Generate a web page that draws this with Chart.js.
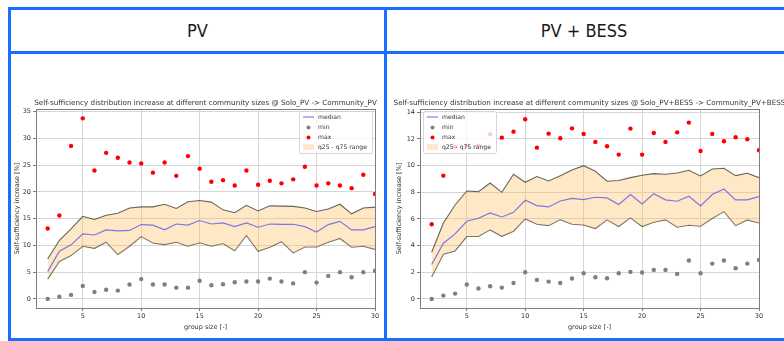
<!DOCTYPE html>
<html>
<head>
<meta charset="utf-8">
<script src="https://cdn.jsdelivr.net/npm/chart.js@4.4.1/dist/chart.umd.min.js"></script>
<style>
  html, body { margin: 0; padding: 0; background: #fff; overflow: hidden; }
  #page { position: relative; width: 784px; height: 341px; }
  .line { position: absolute; background: #1a6eff; }
  .head { position: absolute; top: 10px; height: 41px; line-height: 41px; text-align: center;
          font-family: "Liberation Sans Narrow", "DejaVu Sans Condensed", sans-serif; font-size: 18px; color: #1a1a1a; }
  canvas { position: absolute; }
</style>
</head>
<body>
<div id="page">
  <div class="head" style="left:11px;width:373px;">PV</div>
  <div class="head" style="left:387px;width:394px;">PV + BESS</div>

  <canvas id="chart-pv" style="left:11px;top:54px;width:373px;height:284px;" width="373" height="284"></canvas>
  <canvas id="chart-bess" style="left:387px;top:54px;width:410px;height:284px;" width="410" height="284"></canvas>

  <div class="line" style="left:8px;top:7px;width:790px;height:3px;"></div>
  <div class="line" style="left:8px;top:51px;width:790px;height:3px;"></div>
  <div class="line" style="left:8px;top:338px;width:790px;height:3px;"></div>
  <div class="line" style="left:8px;top:7px;width:3px;height:334px;"></div>
  <div class="line" style="left:384px;top:7px;width:3px;height:334px;"></div>
</div>

<script>
// group sizes on the x axis
var groupSizes = [2, 3, 4, 5, 6, 7, 8, 9, 10, 11, 12, 13, 14, 15, 16, 17, 18, 19, 20, 21, 22, 23, 24, 25, 26, 27, 28, 29, 30];
var xTicks = [5, 10, 15, 20, 25, 30];

// Solo_PV -> Community_PV
var pvMedian = [5.1, 8.9, 10.1, 12.15, 11.95, 12.9, 12.7, 12.8, 13.9, 13.8, 12.9, 14.0, 13.8, 14.65, 14.0, 14.2, 13.5, 14.2, 13.4, 14.0, 13.95, 13.95, 13.5, 12.5, 13.9, 14.5, 12.9, 12.9, 13.5];
var pvQ25 = [3.7, 7.0, 8.1, 9.85, 9.45, 10.6, 8.3, 9.85, 11.65, 10.45, 10.15, 10.6, 9.85, 10.5, 9.85, 10.35, 9.0, 11.85, 8.9, 9.65, 10.7, 8.6, 9.7, 9.7, 10.6, 11.3, 9.65, 9.85, 9.25];
var pvQ75 = [7.45, 10.95, 13.1, 15.45, 14.85, 15.65, 16.0, 17.0, 17.2, 17.2, 17.7, 16.9, 18.15, 18.4, 18.1, 16.65, 16.1, 17.5, 16.45, 17.4, 17.35, 17.3, 17.0, 16.35, 16.8, 17.7, 15.9, 17.0, 17.15];
var pvMin = [0, 0.4, 0.75, 2.4, 1.3, 1.7, 1.55, 2.7, 3.7, 2.7, 2.7, 2.1, 2.1, 3.4, 2.55, 2.75, 3.1, 3.25, 3.25, 3.8, 3.25, 2.9, 5.0, 3.05, 4.3, 5.0, 4.05, 5.0, 5.25];
var pvMax = [13.15, 15.6, 28.6, 33.75, 24.0, 27.3, 26.4, 25.5, 25.3, 23.6, 25.5, 23.0, 26.7, 24.35, 21.9, 22.2, 21.2, 24.0, 21.35, 22.1, 21.6, 22.35, 24.7, 21.2, 21.6, 21.2, 20.7, 23.2, 19.6];
var pvYTicks = [0, 5, 10, 15, 20, 25, 30, 35];

// Solo_PV+BESS -> Community_PV+BESS
var bessMedian = [2.58, 4.18, 4.88, 5.83, 6.05, 6.45, 6.15, 6.5, 7.4, 7.0, 6.9, 7.35, 7.55, 7.45, 7.63, 7.58, 7.08, 7.83, 7.13, 7.9, 7.43, 7.33, 7.7, 6.98, 7.83, 8.25, 7.43, 7.43, 7.68];
var bessQ25 = [1.65, 3.35, 3.6, 4.68, 4.68, 5.18, 4.7, 5.08, 6.0, 5.6, 5.5, 5.95, 5.6, 5.55, 5.28, 5.93, 5.43, 6.08, 5.43, 5.75, 5.93, 5.38, 5.53, 5.45, 6.03, 6.55, 5.5, 5.93, 5.7];
var bessQ75 = [3.5, 5.7, 7.05, 8.1, 8.05, 8.7, 8.0, 9.35, 8.75, 9.18, 8.85, 9.25, 9.68, 10.0, 9.58, 8.83, 8.88, 9.1, 9.28, 9.4, 9.35, 9.45, 9.65, 9.23, 9.75, 9.8, 9.25, 9.43, 9.1];
var bessMin = [0, 0.25, 0.4, 1.08, 0.78, 0.95, 0.85, 1.2, 2.0, 1.43, 1.3, 1.2, 1.53, 1.93, 1.63, 1.55, 1.93, 2.03, 1.98, 2.18, 2.18, 1.88, 2.88, 1.93, 2.65, 2.88, 2.3, 2.65, 2.93];
var bessMax = [5.6, 9.25, 11.4, 11.5, 11.5, 12.35, 12.1, 12.55, 13.48, 11.35, 12.4, 12.05, 12.8, 12.38, 11.78, 11.45, 10.83, 12.78, 10.83, 12.45, 11.78, 12.5, 13.23, 11.1, 12.38, 11.83, 12.13, 11.98, 11.15];
var bessYTicks = [0, 2, 4, 6, 8, 10, 12, 14];

var FONT = 'DejaVu Sans';
var TEXT = '#333';

function xy(values) {
    return values.map((v, i) => ({ x: groupSizes[i], y: v }));
}

// full box around the axes, like matplotlib spines
var axesFrame = {
    id: 'axesFrame',
    afterDatasetsDraw(chart) {
        var a = chart.chartArea, ctx = chart.ctx;
        ctx.save();
        ctx.strokeStyle = '#7d7d7d';
        ctx.lineWidth = 1;
        ctx.strokeRect(Math.round(a.left) + 0.5, Math.round(a.top) + 0.5, Math.round(a.width), Math.round(a.height));
        ctx.restore();
    }
};

// title centred over the axes, not squeezed to fit
var axesTitle = {
    id: 'axesTitle',
    afterDraw(chart, args, opts) {
        var a = chart.chartArea, ctx = chart.ctx;
        ctx.save();
        ctx.font = '7.2px "' + FONT + '"';
        ctx.fillStyle = TEXT;
        ctx.textAlign = 'center';
        ctx.textBaseline = 'alphabetic';
        ctx.fillText(opts.text, (a.left + a.right) / 2, a.top - 4);
        ctx.restore();
    }
};

// legend drawn inside the plot area
var boxLegend = {
    id: 'boxLegend',
    afterDatasetsDraw(chart, args, opts) {
        var a = chart.chartArea, ctx = chart.ctx;
        var w = 73, h = 42;
        var x = opts.side === 'right' ? a.right - w - 3 : a.left + 3;
        var y = a.top + 2;
        ctx.save();
        ctx.fillStyle = 'rgba(255,255,255,0.8)';
        ctx.strokeStyle = 'rgba(204,204,204,0.8)';
        ctx.lineWidth = 1;
        ctx.beginPath();
        ctx.roundRect(x + 0.5, y + 0.5, w, h, 2);
        ctx.fill();
        ctx.stroke();

        ctx.font = '6.1px "' + FONT + '"';
        ctx.textBaseline = 'middle';
        ctx.fillStyle = TEXT;
        var items = opts.items;
        for (var i = 0; i < items.length; i++) {
            var it = items[i];
            var cy = y + 6 + i * 10;
            var hx = x + 4;
            if (it.kind === 'line') {
                ctx.strokeStyle = it.color;
                ctx.lineWidth = 1.2;
                ctx.beginPath();
                ctx.moveTo(hx, cy);
                ctx.lineTo(hx + 11, cy);
                ctx.stroke();
            } else if (it.kind === 'dot') {
                ctx.fillStyle = it.color;
                ctx.beginPath();
                ctx.arc(hx + 5.5, cy + 0.5, 2, 0, Math.PI * 2);
                ctx.fill();
            } else {
                ctx.fillStyle = it.color;
                ctx.fillRect(hx, cy - 3, 11, 6);
            }
            ctx.fillStyle = TEXT;
            ctx.fillText(it.label, hx + 15, cy);
        }
        ctx.restore();
    }
};

function makeChart(id, cfg) {
    var ctx = document.getElementById(id);
    if (!ctx) return;

    var lineBase = { pointRadius: 0, pointHoverRadius: 0, tension: 0 };
    var dotBase = { showLine: false, pointRadius: 2.2, pointBorderWidth: 0, pointHoverRadius: 2.2 };

    new Chart(ctx, {
        type: 'line',
        data: {
            datasets: [
                Object.assign({ label: 'max', data: xy(cfg.max), pointBackgroundColor: '#ff0000', order: 0 }, dotBase),
                Object.assign({ label: 'min', data: xy(cfg.min), pointBackgroundColor: '#7f7f7f', order: 0 }, dotBase),
                Object.assign({ label: 'median', data: xy(cfg.median), borderColor: 'rgba(70,70,240,0.7)', borderWidth: 1.2, order: 1 }, lineBase),
                Object.assign({ label: 'q75', data: xy(cfg.q75), borderColor: 'rgba(40,40,30,0.7)', borderWidth: 1.1,
                    fill: '+1', backgroundColor: 'rgba(255,190,90,0.35)', order: 2 }, lineBase),
                Object.assign({ label: 'q25', data: xy(cfg.q25), borderColor: 'rgba(40,40,30,0.7)', borderWidth: 1.1, order: 2 }, lineBase)
            ]
        },
        options: {
            animation: false,
            responsive: false,
            layout: { padding: { left: cfg.padLeft, right: cfg.padRight, top: 55, bottom: 0 } },
            plugins: {
                legend: { display: false },
                tooltip: { enabled: false },
                title: { display: false },
                axesTitle: { text: cfg.title },
                boxLegend: {
                    side: cfg.legendSide,
                    items: [
                        { kind: 'line', color: 'rgba(70,70,240,0.7)', label: 'median' },
                        { kind: 'dot', color: '#7f7f7f', label: 'min' },
                        { kind: 'dot', color: '#ff0000', label: 'max' },
                        { kind: 'patch', color: 'rgba(255,190,90,0.35)', label: 'q25 - q75 range' }
                    ]
                }
            },
            scales: {
                x: {
                    type: 'linear',
                    min: 1,
                    max: 30,
                    afterBuildTicks: s => { s.ticks = xTicks.map(v => ({ value: v })); },
                    afterFit: s => { s.height = 30; },
                    ticks: { color: TEXT, font: { family: FONT, size: 6.5 }, padding: 1, maxRotation: 0 },
                    grid: { color: '#d6d6d6', lineWidth: 1, tickLength: 3, tickColor: '#7d7d7d' },
                    border: { display: false },
                    title: { display: true, text: 'group size [-]', color: TEXT, font: { family: FONT, size: 6.5 }, padding: { top: 2, bottom: 7 } }
                },
                y: {
                    type: 'linear',
                    min: cfg.yMin,
                    max: cfg.yMax,
                    afterBuildTicks: s => { s.ticks = cfg.yTicks.map(v => ({ value: v })); },
                    afterFit: s => { s.width = cfg.yWidth; },
                    ticks: { color: TEXT, font: { family: FONT, size: 6.5 }, padding: 2 },
                    grid: { color: '#d6d6d6', lineWidth: 1, tickLength: 3, tickColor: '#7d7d7d' },
                    border: { display: false },
                    title: { display: true, text: 'Self-sufficiency increase [%]', color: TEXT, font: { family: FONT, size: 6.5 }, padding: { top: 2, bottom: 0 } }
                }
            }
        },
        plugins: [axesFrame, axesTitle, boxLegend]
    });
}

makeChart('chart-pv', {
    title: 'Self-sufficiency distribution increase at different community sizes @ Solo_PV -> Community_PV',
    median: pvMedian, q25: pvQ25, q75: pvQ75, min: pvMin, max: pvMax,
    yTicks: pvYTicks, yMin: -1.7, yMax: 35.5,
    padLeft: 0, padRight: 9, yWidth: 25, legendSide: 'right'
});

makeChart('chart-bess', {
    title: 'Self-sufficiency distribution increase at different community sizes @ Solo_PV+BESS -> Community_PV+BESS',
    median: bessMedian, q25: bessQ25, q75: bessQ75, min: bessMin, max: bessMax,
    yTicks: bessYTicks, yMin: -0.68, yMax: 14.25,
    padLeft: 6, padRight: 38, yWidth: 27, legendSide: 'left'
});
</script>
</body>
</html>
